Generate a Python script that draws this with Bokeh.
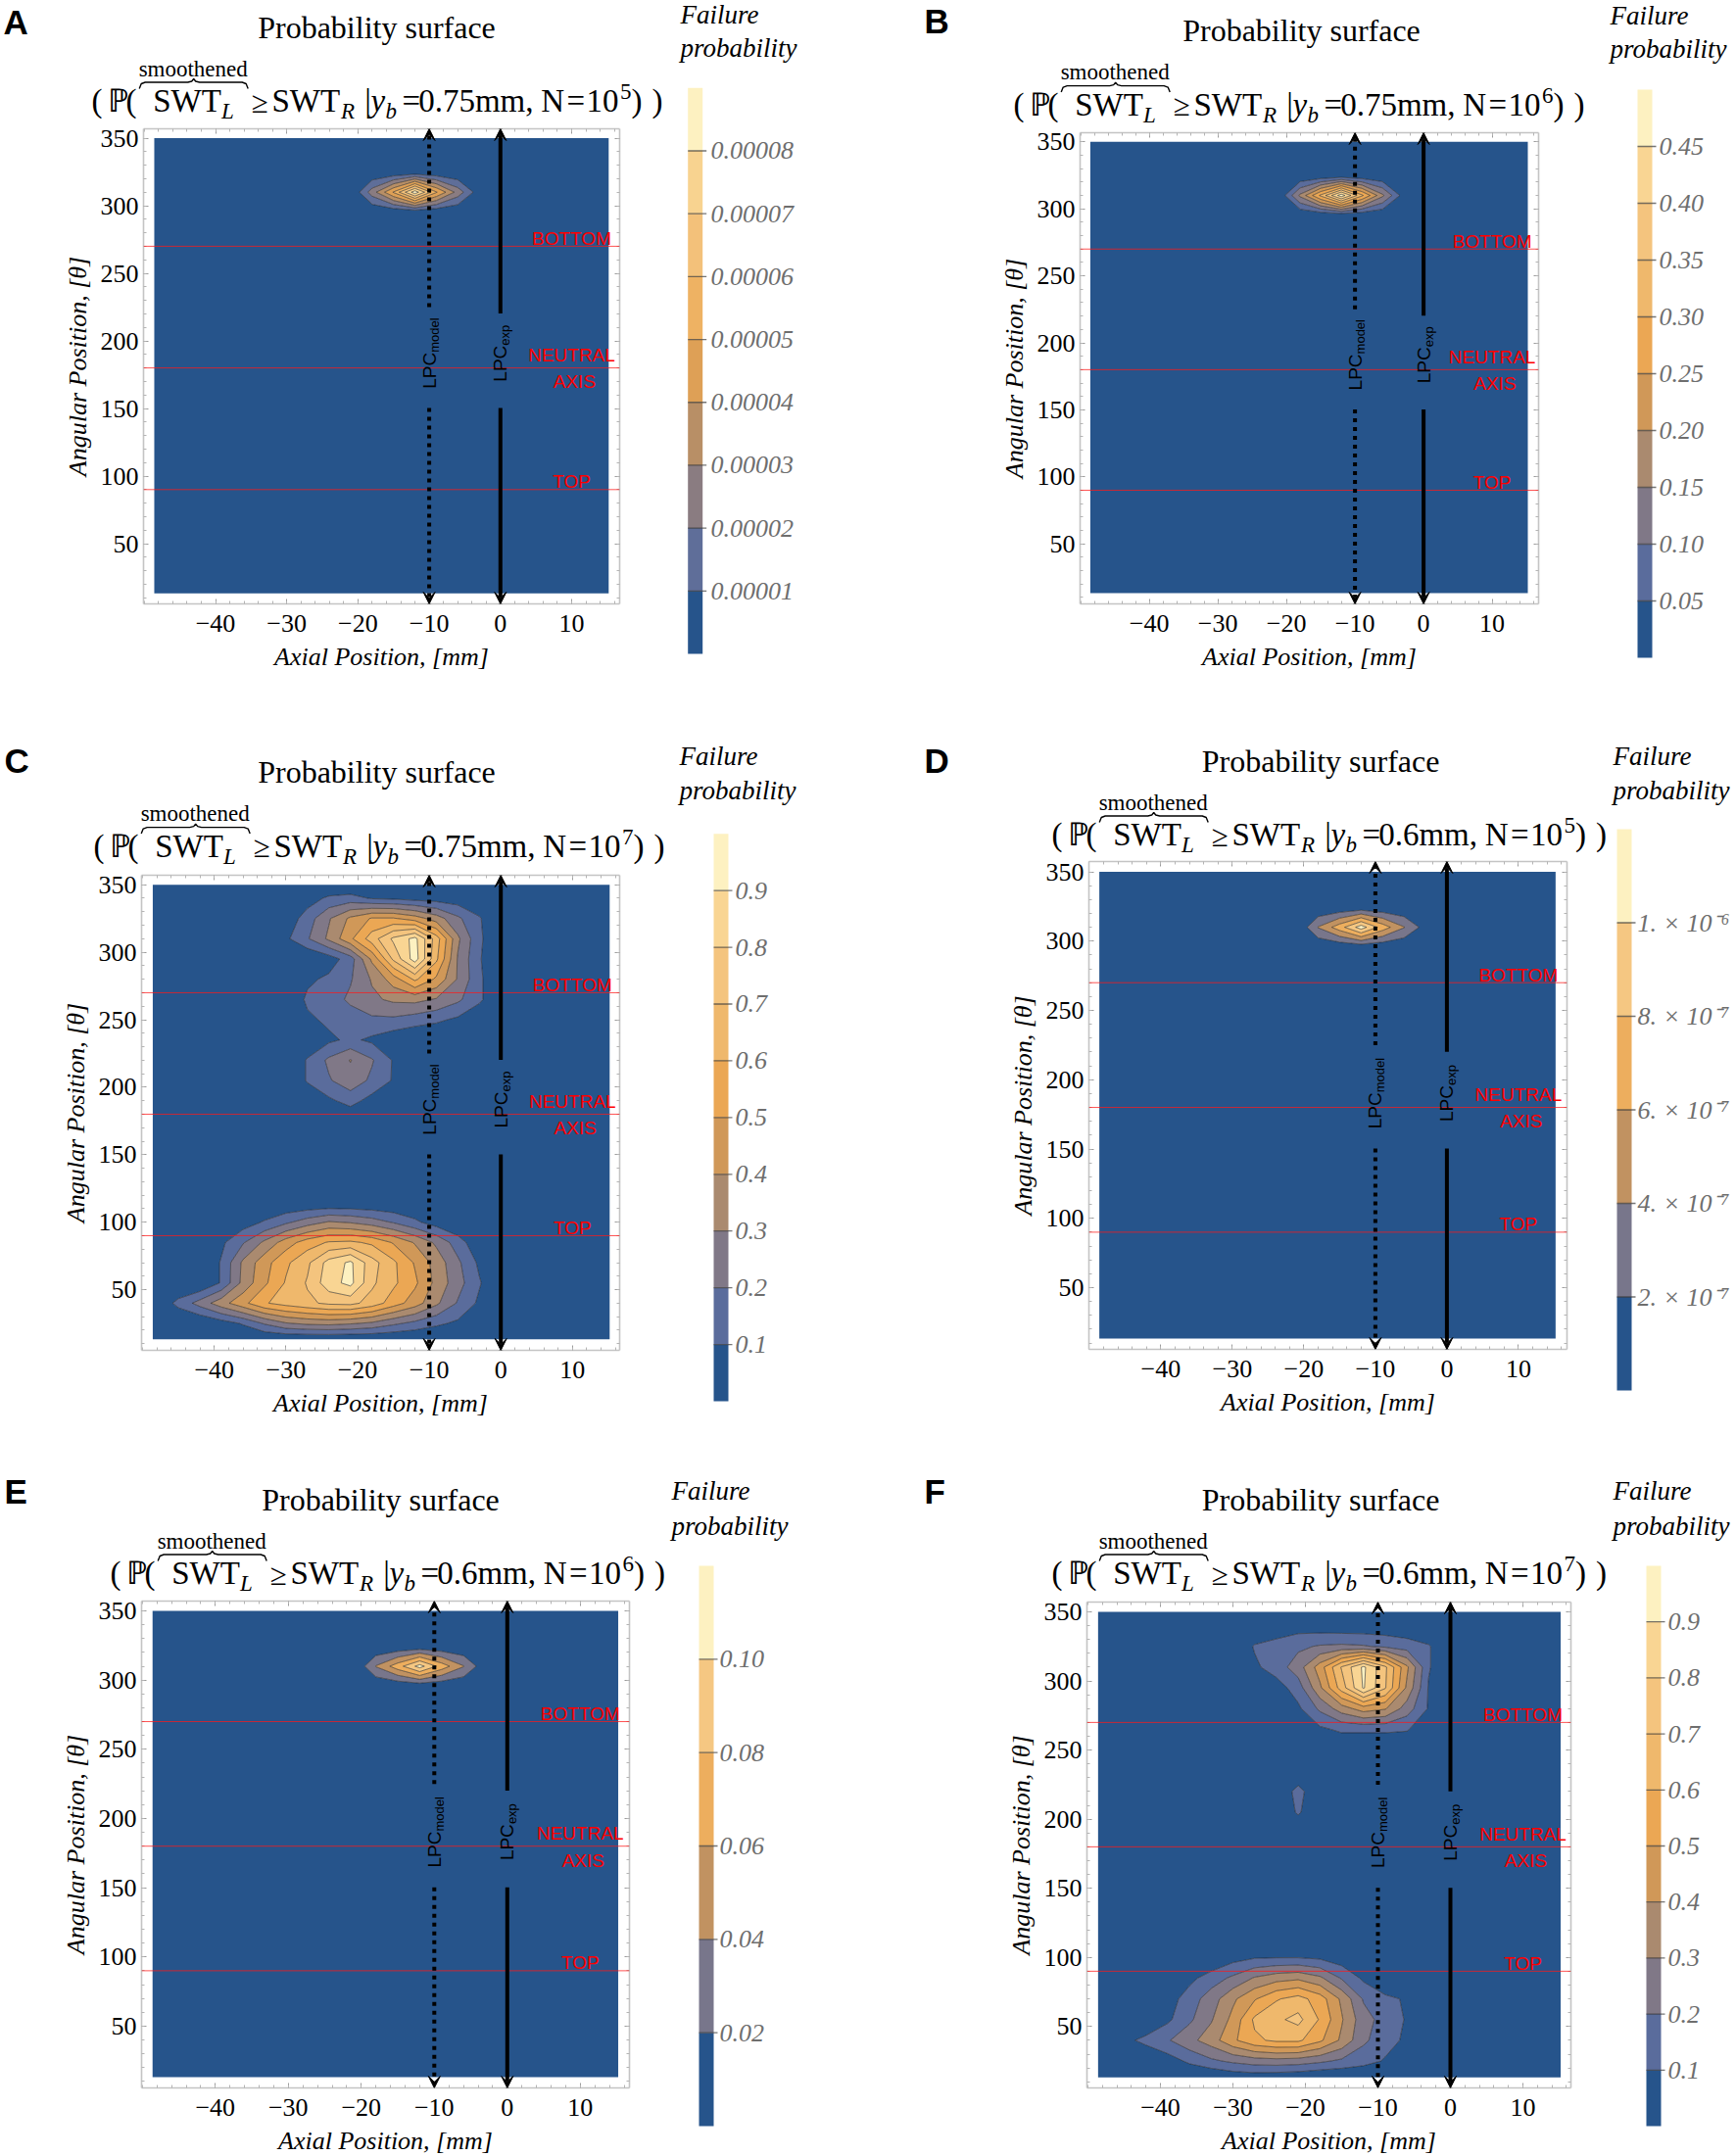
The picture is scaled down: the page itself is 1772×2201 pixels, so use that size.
import numpy as np
from bokeh.plotting import figure
from bokeh.layouts import row, column
from bokeh.models import Range1d, FixedTicker, LinearAxis, Span, Arrow, VeeHead, Label
from bokeh.embed import file_html
from bokeh.resources import INLINE

SERIF = "Liberation Serif"
SANS = "Liberation Sans"

# sampling grid of the probability surface (axial mm, angular deg)
x_nodes = [-48.6, -45, -42, -39, -36, -33, -30, -27, -24, -21, -18, -15, -12, -9, -6, -3, 0, 3, 6, 9, 12, 15.2]
y_nodes = [13.2, 25, 40, 55, 70, 85, 100, 115, 130, 145, 160, 175, 190, 205, 220, 235, 250, 265, 280,
           295, 310, 325, 340, 350]

x_ticks = [-40, -30, -20, -10, 0, 10]
y_ticks = [50, 100, 150, 200, 250, 300, 350]
x_minor = [-50, -48, -46, -44, -42, -40, -38, -36, -34, -32, -30, -28, -26, -24, -22, -20, -18, -16, -14,
           -12, -10, -8, -6, -4, -2, 0, 2, 4, 6, 8, 10, 12, 14, 16]
y_minor = [10, 20, 30, 40, 50, 60, 70, 80, 90, 100, 110, 120, 130, 140, 150, 160, 170, 180, 190, 200,
           210, 220, 230, 240, 250, 260, 270, 280, 290, 300, 310, 320, 330, 340, 350]

ref_angles = [270, 180, 90]
ref_words = ["BOTTOM", "NEUTRAL", "AXIS", "TOP"]
lpc_model = -10
lpc_exp = 0

# non-zero parts of each surface: (first x node, first y node, rows from low to high angle)
# A: yb=0.75mm, N=1e5
a_blocks = [(-21, 310, [[0, 2.5e-5, 5.1e-5, 8.6e-5, 5.1e-5, 2.6e-5, 0.4e-5]])]
a_levels = [0, 1e-5, 2e-5, 3e-5, 4e-5, 5e-5, 6e-5, 7e-5, 8e-5, 9e-5]
a_labels = ["0.00001", "0.00002", "0.00003", "0.00004", "0.00005", "0.00006", "0.00007", "0.00008"]

# B: yb=0.75mm, N=1e6
b_blocks = [(-21, 310, [[0.01, 0.16, 0.31, 0.48, 0.31, 0.16, 0.03]])]
b_levels = [0, 0.05, 0.1, 0.15, 0.2, 0.25, 0.3, 0.35, 0.4, 0.45, 0.5]
b_labels = ["0.05", "0.10", "0.15", "0.20", "0.25", "0.30", "0.35", "0.40", "0.45"]

# C: yb=0.75mm, N=1e7
c_blocks = [
    (-45, 25, [
        [0, 0, 0.05, 0.11, 0.21, 0.29, 0.32, 0.33, 0.31, 0.28, 0.22, 0.17, 0.12, 0.08, 0.04, 0],
        [0.13, 0.24, 0.36, 0.47, 0.59, 0.64, 0.68, 0.72, 0.73, 0.66, 0.55, 0.45, 0.32, 0.19, 0.08, 0],
        [0, 0, 0.11, 0.33, 0.48, 0.61, 0.71, 0.86, 0.93, 0.72, 0.62, 0.52, 0.37, 0.24, 0.11, 0],
        [0, 0, 0.11, 0.32, 0.46, 0.58, 0.68, 0.84, 0.92, 0.74, 0.62, 0.49, 0.36, 0.22, 0.08, 0],
        [0, 0, 0.08, 0.19, 0.32, 0.45, 0.55, 0.61, 0.62, 0.58, 0.49, 0.39, 0.28, 0.15, 0.02, 0],
        [0, 0, 0, 0.05, 0.11, 0.18, 0.25, 0.31, 0.29, 0.25, 0.19, 0.12, 0.05, 0, 0, 0],
    ]),
    (-30, 190, [
        [0, 0.02, 0.08, 0.14, 0.06, 0, 0, 0, 0, 0, 0],
        [0, 0.11, 0.19, 0.26, 0.18, 0.09, 0, 0, 0, 0, 0],
        [0, 0.11, 0.22, 0.305, 0.21, 0.09, 0, 0, 0, 0, 0],
        [0, 0.02, 0.08, 0.12, 0.08, 0.03, 0, 0, 0, 0, 0],
        [0, 0.08, 0.12, 0.15, 0.18, 0.18, 0.15, 0.12, 0.08, 0.02, 0],
        [0, 0.12, 0.15, 0.22, 0.28, 0.32, 0.33, 0.29, 0.22, 0.12, 0],
        [0, 0.08, 0.12, 0.19, 0.31, 0.45, 0.62, 0.48, 0.29, 0.12, 0],
        [0, 0, 0.05, 0.15, 0.42, 0.72, 0.95, 0.62, 0.29, 0.11, 0],
        [0.08, 0.19, 0.32, 0.48, 0.65, 0.82, 0.93, 0.65, 0.32, 0.12, 0],
        [0.03, 0.15, 0.29, 0.42, 0.51, 0.51, 0.45, 0.35, 0.22, 0.11, 0],
        [0, 0.05, 0.12, 0.14, 0.09, 0.08, 0.06, 0.05, 0.04, 0.02, 0],
    ]),
]
c_levels = [0, 0.1, 0.2, 0.3, 0.4, 0.5, 0.6, 0.7, 0.8, 0.9, 1.0]
c_labels = ["0.1", "0.2", "0.3", "0.4", "0.5", "0.6", "0.7", "0.8", "0.9"]

# D: yb=0.6mm, N=1e5
d_blocks = [(-21, 310, [[0, 4.1e-7, 7.1e-7, 1.1e-6, 7.1e-7, 4.1e-7, 1.1e-7]])]
d_levels = [0, 2e-7, 4e-7, 6e-7, 8e-7, 1e-6, 1.2e-6]
d_labels = ["2. \u00d7 10\u207b\u2077", "4. \u00d7 10\u207b\u2077", "6. \u00d7 10\u207b\u2077",
            "8. \u00d7 10\u207b\u2077", "1. \u00d7 10\u207b\u2076"]

# E: yb=0.6mm, N=1e6
e_blocks = [(-21, 310, [[0, 0.041, 0.071, 0.108, 0.071, 0.041, 0.005]])]
e_levels = [0, 0.02, 0.04, 0.06, 0.08, 0.10, 0.12]
e_labels = ["0.02", "0.04", "0.06", "0.08", "0.10"]

# F: yb=0.6mm, N=1e7
f_blocks = [
    (-45, 13.2, [
        [0, 0, 0, 0, 0, 0.03, 0.04, 0.03, 0.02, 0, 0, 0, 0, 0, 0, 0],
        [0, 0, 0.05, 0.12, 0.18, 0.22, 0.25, 0.26, 0.25, 0.22, 0.18, 0.14, 0.09, 0.06, 0.02, 0],
        [0.07, 0.13, 0.19, 0.27, 0.35, 0.48, 0.58, 0.62, 0.62, 0.52, 0.38, 0.22, 0.14, 0.08, 0, 0],
        [0, 0, 0.08, 0.18, 0.29, 0.43, 0.62, 0.68, 0.73, 0.59, 0.41, 0.24, 0.16, 0.09, 0, 0],
        [0, 0, 0.05, 0.15, 0.25, 0.38, 0.49, 0.59, 0.64, 0.55, 0.38, 0.19, 0.12, 0.09, 0, 0],
        [0, 0, 0, 0.07, 0.15, 0.22, 0.31, 0.36, 0.38, 0.32, 0.19, 0.08, 0.02, 0, 0, 0],
        [0, 0, 0, 0, 0, 0.06, 0.09, 0.095, 0.095, 0.08, 0.04, 0, 0, 0, 0, 0],
    ]),
    (-30, 265, [
        [0, 0, 0, 0, 0.08, 0.12, 0.12, 0.12, 0.11, 0.02, 0],
        [0, 0, 0, 0.08, 0.22, 0.35, 0.45, 0.41, 0.25, 0.09, 0],
        [0, 0, 0.05, 0.15, 0.38, 0.65, 0.91, 0.71, 0.38, 0.09, 0],
        [0, 0.08, 0.15, 0.25, 0.45, 0.71, 0.92, 0.72, 0.42, 0.11, 0],
        [0, 0.11, 0.14, 0.18, 0.21, 0.22, 0.21, 0.18, 0.15, 0.11, 0],
        [0, 0, 0.03, 0.05, 0.04, 0.03, 0.03, 0.03, 0.02, 0, 0],
    ]),
    (-21, 205, [[0.115], [0.14]]),
]
f_levels = [0, 0.1, 0.2, 0.3, 0.4, 0.5, 0.6, 0.7, 0.8, 0.9, 1.0]
f_labels = ["0.1", "0.2", "0.3", "0.4", "0.5", "0.6", "0.7", "0.8", "0.9"]

# page geometry, pixels inside each panel (left column 940 wide, right column 832)
LAYOUT = {
    "A": dict(col=940, ph=756, wm=687, x0=510.3, y350=140.5, sx=7.27, sy=1.38, title_x=384, f_x=93, f_y=114,
              let_x=3, let_y=34, bar_x=701.7, bar_top=89.3, bar_bot=667, lab_x=725, fail_x=694, fail_y=(24, 58)),
    "B": dict(col=832, ph=756, wm=698, x0=512.6, y350=144.3, sx=7.0, sy=1.368, title_x=388, f_x=94, f_y=117.6,
              let_x=3, let_y=33, bar_x=731, bar_top=91, bar_bot=671, lab_x=753, fail_x=703, fail_y=(25, 59)),
    "C": dict(col=940, ph=744, wm=687, x0=510.7, y350=146.7, sx=7.31, sy=1.378, title_x=384, f_x=95, f_y=118.6,
              let_x=4, let_y=32, bar_x=728, bar_top=94.7, bar_bot=674, lab_x=750, fail_x=693, fail_y=(25, 60)),
    "D": dict(col=832, ph=744, wm=702, x0=536.4, y350=133.5, sx=7.3, sy=1.415, title_x=407.6, f_x=133, f_y=107,
              let_x=3, let_y=32, bar_x=710, bar_top=90, bar_bot=663, lab_x=731, fail_x=706, fail_y=(25, 60)),
    "E": dict(col=940, ph=701, wm=681, x0=517.3, y350=144, sx=7.45, sy=1.413, title_x=388, f_x=112, f_y=117,
              let_x=4, let_y=34, bar_x=713, bar_top=98, bar_bot=670, lab_x=734, fail_x=685, fail_y=(31, 67)),
    "F": dict(col=832, ph=701, wm=702, x0=540, y350=145, sx=7.4, sy=1.411, title_x=407.6, f_x=133, f_y=117,
              let_x=3, let_y=34, bar_x=740, bar_top=98, bar_bot=670, lab_x=762, fail_x=706, fail_y=(31, 67)),
}

ANCHORS = ["#26548b", "#5a6c9c", "#807887", "#aa8a6f", "#d09858", "#eba754", "#efb86c", "#f4c47e",
           "#f9d593", "#fdf1c1"]
MID = 0.3375  # distance from the baseline to the middle of a text line, in em


def band_colors(n):
    out = []
    for i in range(n):
        t = i / (n - 1) * (len(ANCHORS) - 1)
        k = min(int(t), len(ANCHORS) - 2)
        f = t - k
        a, b = ANCHORS[k], ANCHORS[k + 1]
        rgb = [round(int(a[j:j + 2], 16) * (1 - f) + int(b[j:j + 2], 16) * f) for j in (1, 3, 5)]
        out.append("#%02x%02x%02x" % tuple(rgb))
    return out


def grid(blocks):
    z = np.zeros((len(y_nodes), len(x_nodes)))
    for x0, y0, rows in blocks:
        i0 = x_nodes.index(x0)
        j0 = y_nodes.index(y0)
        for dj, r in enumerate(rows):
            z[j0 + dj, i0:i0 + len(r)] = r
    return z


def put(p, x, y, s, size, style="normal", font=SERIF, align="left", color="black", up=None, angle=0.0):
    # y is the baseline; `up` = data units per upward pixel (None: y is already the line middle)
    if up is not None:
        y = y + MID * size * up
    p.add_layout(Label(x=x, y=y, text=s, text_font=font, text_font_size="%spx" % size,
                       text_font_style=style, text_align=align, text_color=color,
                       text_baseline="middle", angle=angle))


def geometry(L):
    fl = round(L["x0"] - 50.1 * L["sx"])
    fw = round(66.8 * L["sx"])
    ft = round(L["y350"] - 7.1 * L["sy"])
    fh = round(351.7 * L["sy"])
    # header stops above the "350" tick label
    hh = min(ft - 3, int(L["y350"] - 14.5))
    return fl, fw, ft, fh, hh


def bare(width, height, xr, yr):
    p = figure(width=width, height=height, x_range=xr, y_range=yr, toolbar_location=None,
               output_backend="svg", min_border=0, x_axis_type=None, y_axis_type=None, frame_align=False)
    p.outline_line_color = None
    return p


def header(L, letter, yb, nexp):
    fl, fw, ft, fh, hh = geometry(L)
    p = bare(L["wm"], hh, Range1d(0, L["wm"]), Range1d(hh, 0))
    put(p, L["let_x"], L["let_y"], letter, 35, "bold", SANS, up=-1)
    b = L["f_y"]
    x = L["f_x"]
    put(p, L["title_x"], b - 76, "Probability surface", 32, align="center", up=-1)
    put(p, x + 103.7, b - 36.7, "smoothened", 23, align="center", up=-1)
    bx0, bx1 = x + 48.7, x + 159.7
    bm = (bx0 + bx1) / 2
    p.line([bx0, bx0 + 2, bx0 + 6, bm - 6, bm - 2, bm, bm + 2, bm + 6, bx1 - 6, bx1 - 2, bx1],
           [b - 24, b - 29, b - 30.5, b - 30.5, b - 31.5, b - 34, b - 31.5, b - 30.5, b - 30.5, b - 29, b - 24],
           line_color="black", line_width=1.4)
    val = yb + "mm,"
    d = 0 if yb == "0.75" else -16.5
    toks = [("(", 0, "r"), ("\u2119", 16, "r"), ("(", 35, "r"), ("SWT", 62.7, "r"), ("L", 132.4, "sub"),
            ("\u2265", 163, "r"), ("SWT", 184, "r"), ("R", 254.5, "sub"), ("|", 278.7, "r"),
            ("y", 285, "i"), ("b", 300, "sub"), ("=", 317, "r"), (val, 333.7, "r"),
            ("N", 458.7 + d, "r"), ("=", 485 + d, "r"), ("10", 505 + d, "r"), (nexp, 539.5 + d, "sup"),
            (")", 551 + d, "r"), (")", 572 + d, "r")]
    for s, dx, kind in toks:
        if kind == "r":
            put(p, x + dx, b, s, 31 if s == "\u2265" else 33, up=-1)
        elif kind == "i":
            put(p, x + dx, b, s, 33, "italic", up=-1)
        elif kind == "sub":
            put(p, x + dx, b + 7, s, 23, "italic", up=-1)
        else:
            put(p, x + dx, b - 13, s, 23, up=-1)
    return p


def frame_axis(ax, ticks, minor, labels):
    ax.ticker = FixedTicker(ticks=ticks, minor_ticks=minor)
    ax.axis_line_color = "#c4c4c4"
    ax.axis_line_width = 1.6
    ax.major_tick_in = 5
    ax.major_tick_out = 0
    ax.minor_tick_in = 3
    ax.minor_tick_out = 0
    ax.major_tick_line_color = "#9a9a9a"
    ax.minor_tick_line_color = "#b4b4b4"
    if labels:
        ax.major_label_text_font = SERIF
        ax.major_label_text_font_size = "26px"
        ax.major_label_text_color = "black"
        ax.axis_label_text_font = SERIF
        ax.axis_label_text_font_size = "26px"
        ax.axis_label_text_font_style = "italic"
        ax.axis_label_text_color = "black"
    else:
        ax.major_label_text_font_size = "0px"
        ax.major_label_text_color = None
        ax.major_label_standoff = 0


def surface(L, blocks, levels):
    fl, fw, ft, fh, hh = geometry(L)
    sx, sy = L["sx"], L["sy"]
    x_lo = (fl - L["x0"]) / sx
    x_hi = x_lo + fw / sx
    y_hi = 350 + (L["y350"] - ft) / sy
    y_lo = y_hi - fh / sy
    p = figure(frame_width=fw, frame_height=fh, x_range=Range1d(x_lo, x_hi), y_range=Range1d(y_lo, y_hi),
               toolbar_location=None, output_backend="svg", frame_align=False,
               min_border_left=fl, min_border_right=L["wm"] - fl - fw, min_border_top=ft - hh,
               min_border_bottom=L["ph"] - ft - fh)
    p.outline_line_color = None
    p.grid.visible = False

    lv = [-1e-3 * levels[1]] + levels[1:]
    p.contour(x=x_nodes, y=y_nodes, z=grid(blocks), levels=lv, fill_color=band_colors(len(levels) - 1),
              line_color="#1a1a1a", line_alpha=0.55, line_width=1)

    frame_axis(p.xaxis[0], x_ticks, x_minor, True)
    frame_axis(p.yaxis[0], y_ticks, y_minor, True)
    p.xaxis.major_label_overrides = {t: str(t).replace("-", "\u2212") for t in x_ticks}
    p.xaxis.axis_label = "Axial Position, [mm]"
    p.yaxis.axis_label = "Angular Position, [\u03b8]"
    p.xaxis.major_label_standoff = 11
    p.xaxis.axis_label_standoff = 8
    p.yaxis.major_label_standoff = 5
    p.yaxis.axis_label_standoff = 6
    top = LinearAxis()
    right = LinearAxis()
    frame_axis(top, x_ticks, x_minor, False)
    frame_axis(right, y_ticks, y_minor, False)
    p.add_layout(top, "above")
    p.add_layout(right, "right")

    for a in ref_angles:
        p.add_layout(Span(location=a, dimension="width", line_color="#ff1a1a", line_alpha=0.75, line_width=1))
    for word, wx, wy in zip(ref_words, [10, 10, 10.4, 10], [271.2, 184.6, 165.3, 91.2]):
        put(p, wx, wy, word, 19, font=SANS, align="center", color="#ff0000", up=1 / sy)

    for xc, dash, gap_top, base, sub in ((lpc_model, "4 5", 225, 164.6, "model"),
                                         (lpc_exp, "solid", 220.2, 169.8, "exp")):
        for y0, y1 in ((gap_top, y_hi), (150.3, y_lo)):
            p.add_layout(Arrow(end=VeeHead(size=12, fill_color="black", line_color="black", line_width=1),
                               x_start=xc, y_start=y0, x_end=xc, y_end=y1,
                               line_color="black", line_width=4, line_dash=dash))
        put(p, xc, base, "LPC", 19, font=SANS, angle=np.pi / 2)
        put(p, xc + 5 / sx, base + 37 / sy, sub, 13, font=SANS, angle=np.pi / 2)
    return p


def colorbar(L, levels, labels):
    w = L["col"] - L["wm"]
    h = L["ph"]
    topv = levels[-1]
    u = topv / (L["bar_bot"] - L["bar_top"])
    y_end = topv + L["bar_top"] * u
    y_start = -(h - L["bar_bot"]) * u
    p = bare(w, h, Range1d(L["wm"], L["col"]), Range1d(y_start, y_end))
    p.quad(left=L["bar_x"], right=L["bar_x"] + 15, bottom=levels[:-1], top=levels[1:],
           fill_color=band_colors(len(levels) - 1), line_color=None)
    inner = levels[1:-1]
    p.segment(x0=[L["bar_x"]] * len(inner), x1=[L["bar_x"] + 19] * len(inner), y0=inner, y1=inner,
              line_color="#3a3a3a", line_alpha=0.7, line_width=1.3)
    for lv, s in zip(inner, labels):
        put(p, L["lab_x"], lv, s, 26, "italic", color="#6e6e6e")
    put(p, L["fail_x"], y_end - L["fail_y"][0] * u, "Failure", 27, "italic", up=u)
    put(p, L["fail_x"], y_end - L["fail_y"][1] * u, "probability", 27, "italic", up=u)
    return p


def panel(letter, yb, nexp, blocks, levels, labels):
    L = LAYOUT[letter]
    left = column(header(L, letter, yb, nexp), surface(L, blocks, levels))
    return row(left, colorbar(L, levels, labels))


page = column(
    row(panel("A", "0.75", "5", a_blocks, a_levels, a_labels),
        panel("B", "0.75", "6", b_blocks, b_levels, b_labels)),
    row(panel("C", "0.75", "7", c_blocks, c_levels, c_labels),
        panel("D", "0.6", "5", d_blocks, d_levels, d_labels)),
    row(panel("E", "0.6", "6", e_blocks, e_levels, e_labels),
        panel("F", "0.6", "7", f_blocks, f_levels, f_labels)),
)

open("out.html", "w").write(file_html(page, INLINE, title="Probability surfaces"))
